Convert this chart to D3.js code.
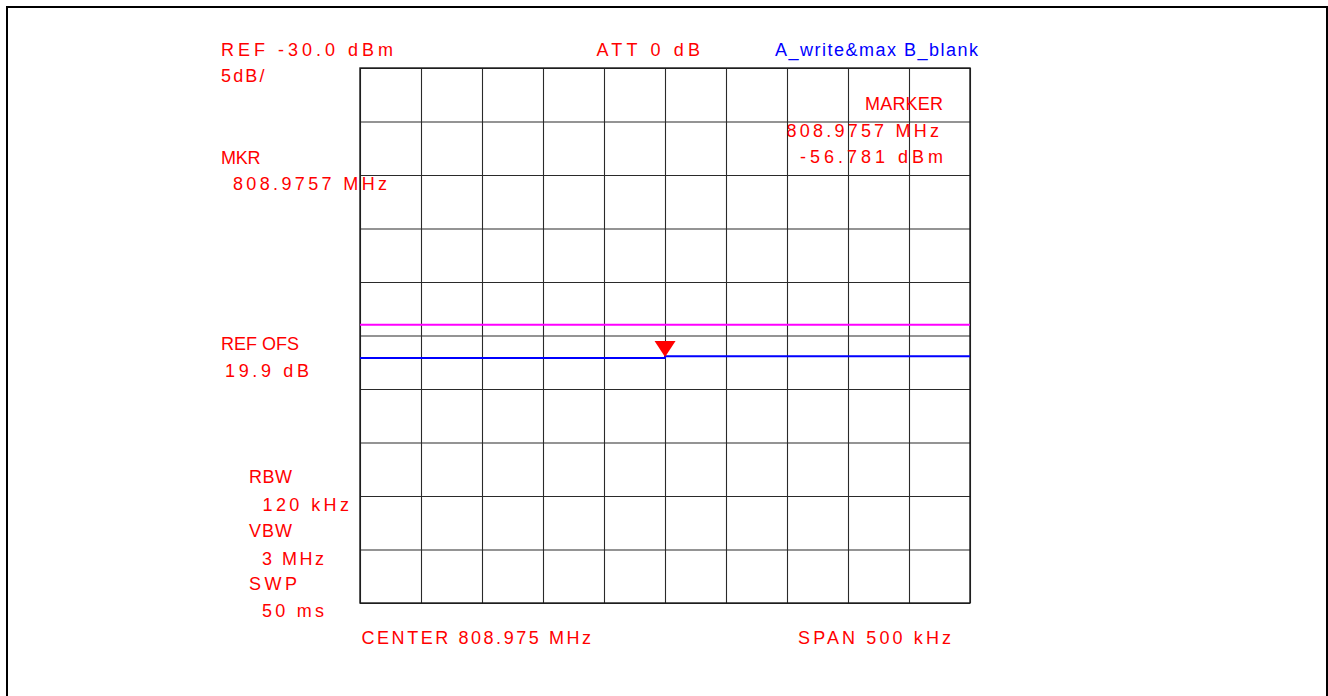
<!DOCTYPE html>
<html>
<head>
<meta charset="utf-8">
<script src="https://cdn.jsdelivr.net/npm/d3@7"></script>
<style>
  html, body { margin: 0; padding: 0; background: #fff; }
  svg { display: block; }
  text { font-family: "Liberation Sans", Arial, sans-serif; font-size: 18px; }
</style>
</head>
<body>
<svg id="chart" width="1328" height="696"></svg>
<script>
// ---- data ----
const centerMHz = 808.975;
const spanMHz = 0.5;
const refLevel = -30;      // dBm (top of screen)
const dbPerDiv = 5;
const divisions = 10;

const traceFreq  = [808.725, 808.975, 808.975, 809.225];   // MHz
const traceLevel = [-57.1, -57.1, -56.95, -56.95];          // dBm (A_write&max)
const limitFreq  = [808.725, 809.225];
const limitLevel = [-54.0, -54.0];                          // dBm (magenta line)
const markerFreq = 808.9757;                                // MHz
const markerDrawLevel = -57.0;                              // dBm (tip of marker as drawn)

const labelsLeft = ["REF -30.0 dBm", "5dB/", "MKR", "808.9757 MHz", "REF OFS", "19.9 dB",
                    "RBW", "120 kHz", "VBW", "3 MHz", "SWP", "50 ms"];
const labelsTop = ["ATT 0 dB", "A_write&max B_blank"];
const labelsMarker = ["MARKER", "808.9757 MHz", "-56.781 dBm"];
const labelsBottom = ["CENTER 808.975 MHz", "SPAN 500 kHz"];

// ---- layout ----
const svg = d3.select("#chart");
const plot = { left: 360, right: 970, top: 68, bottom: 603 };

const x = d3.scaleLinear()
  .domain([centerMHz - spanMHz / 2, centerMHz + spanMHz / 2])
  .range([plot.left, plot.right]);
const y = d3.scaleLinear()
  .domain([refLevel, refLevel - dbPerDiv * divisions])
  .range([plot.top, plot.bottom]);

// outer frame
svg.append("rect")
  .attr("x", 7).attr("y", 7).attr("width", 1320).attr("height", 720)
  .attr("fill", "none").attr("stroke", "#000").attr("stroke-width", 2);

// grid through axes
const xTicks = d3.range(divisions + 1).map(i => x.domain()[0] + i * spanMHz / divisions);
const yTicks = d3.range(divisions + 1).map(i => refLevel - i * dbPerDiv);

const gx = svg.append("g")
  .attr("transform", `translate(0,${plot.bottom})`)
  .call(d3.axisBottom(x).tickValues(xTicks).tickSize(-(plot.bottom - plot.top)).tickFormat(""));
const gy = svg.append("g")
  .attr("transform", `translate(${plot.left},0)`)
  .call(d3.axisLeft(y).tickValues(yTicks).tickSize(-(plot.right - plot.left)).tickFormat(""));
[gx, gy].forEach(g => {
  g.select(".domain").remove();
  g.selectAll(".tick line").attr("stroke", "#2a2a2a").attr("stroke-width", 1.1);
});
svg.append("rect")
  .attr("x", plot.left).attr("y", plot.top)
  .attr("width", plot.right - plot.left).attr("height", plot.bottom - plot.top)
  .attr("fill", "none").attr("stroke", "#1a1a1a").attr("stroke-width", 1.4);

// limit line
const line = d3.line().x(d => x(d[0])).y(d => y(d[1]));
svg.append("path")
  .datum(limitFreq.map((f, i) => [f, limitLevel[i]]))
  .attr("d", line).attr("fill", "none").attr("stroke", "#ff00ff").attr("stroke-width", 2);

// trace
svg.append("path")
  .datum(traceFreq.map((f, i) => [f, traceLevel[i]]))
  .attr("d", line).attr("fill", "none").attr("stroke", "#0000ff").attr("stroke-width", 2);

// marker
const mx = x(markerFreq) - 0.8, my = y(markerDrawLevel);
svg.append("path")
  .attr("d", `M${mx - 10.5},${my - 16} L${mx + 10.5},${my - 16} L${mx},${my} Z`)
  .attr("fill", "#ff0000");

// ---- texts ----
function label(str, x0, x1, base, color) {
  svg.append("text")
    .attr("x", x0).attr("y", base)
    .attr("fill", color || "#ff0000")
    .attr("textLength", x1 - x0)
    .attr("lengthAdjust", "spacing")
    .style("white-space", "pre")
    .text(str);
}
const leftPos = [
  [221, 393, 56], [221, 264.5, 82], [221, 260.5, 164], [233, 387, 190],
  [221, 299, 350], [225, 309, 377],
  [249, 292, 483], [262.5, 349, 511], [249, 292, 537], [262, 324, 565],
  [249, 297, 590], [262, 324, 617]
];
labelsLeft.forEach((s, i) => label(s, leftPos[i][0], leftPos[i][1], leftPos[i][2]));

label(labelsTop[0], 596.5, 700, 56);
label(labelsTop[1], 775, 978, 56, "#0000ff");

const markerPos = [[865, 943, 110], [786.5, 939, 137], [800, 943, 163]];
labelsMarker.forEach((s, i) => label(s, markerPos[i][0], markerPos[i][1], markerPos[i][2]));

label(labelsBottom[0], 361.5, 591, 644);
label(labelsBottom[1], 798, 951, 644);
</script>
</body>
</html>
